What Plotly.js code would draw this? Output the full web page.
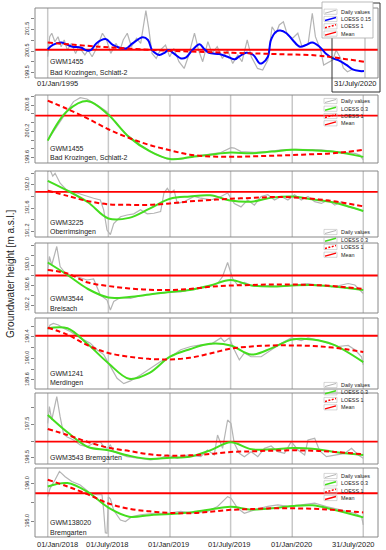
<!DOCTYPE html>
<html><head><meta charset="utf-8">
<script src="https://cdn.plot.ly/plotly-3.0.1.min.js"></script>
<style>html,body{margin:0;padding:0;background:#fff;}#chart{width:386px;height:550px;}</style>
</head><body><div id="chart"></div>
<script>
// ---------------- DATA ----------------
const stationIds = ['GWM1455','GWM1455','GWM3225','GWM3544','GWM1241','GWM3543 Bremgarten','GWM138020'];
const stationNames = ['Bad Krozingen, Schlatt-2','Bad Krozingen, Schlatt-2','Oberrimsingen','Breisach','Merdingen','','Bremgarten'];
const legendLabelsP1 = ['Daily values','LOESS 0.15','LOESS 1','Mean'];
const legendLabels = ['Daily values','LOESS 0.3','LOESS 1','Mean'];
const yTitle = 'Groundwater height [m a.s.l.]';

const p1TickDates = ['1995-01-01','2020-07-31'];
const p1TickLabels = ['01/Jan/1995','31/July/2020'];
const xTickDates = ['2018-01-01','2018-07-01','2019-01-01','2019-07-01','2020-01-01','2020-07-31'];
const xTickLabels = ['01/Jan/2018','01/July/2018','01/Jan/2019','01/July/2019','01/Jan/2020','31/July/2020'];

const means = [200.56, 200.56, 191.88, 192.79, 190.42, 196.98, 195.75];

const yTickVals = [
  [199.5,200,200.5,201,201.5,202],
  [199.6,199.8,200.0,200.2,200.4,200.6,200.8,201.0],
  [191.2,191.4,191.6,191.8,192.0,192.2],
  [192.2,192.4,192.6,192.8,193.0,193.2,193.4],
  [189.6,189.8,190.0,190.2,190.4,190.6],
  [196.5,197.0,197.5,198.0],
  [195.0,195.5,196.0]
];
const yTickText = [
  ['199.5','','200.5','','201.5',''],
  ['199.6','','','200.2','','','200.8',''],
  ['191.2','','191.6','','192.0',''],
  ['192.2','','192.6','','193.0','',''],
  ['189.6','','190.0','','190.4',''],
  ['196.5','','197.5',''],
  ['195.0','','196.0']
];

// Panel 1 : GWM1455 1995-2020
const p1GreyDates = ['1995-01','1995-03','1995-05','1995-08','1995-11','1996-02','1996-05','1996-08','1996-12','1997-04','1997-07','1998-01','1998-04','1998-08','1999-01','1999-06','1999-10','2000-02','2000-07','2000-11','2001-02','2001-06','2001-10','2002-03','2002-07','2002-12','2003-03','2003-06','2003-10','2004-02','2004-07','2004-11','2005-03','2005-08','2006-01','2006-05','2006-11','2007-03','2007-07','2007-12','2008-04','2008-09','2009-02','2009-07','2009-12','2010-05','2010-09','2011-02','2011-06','2011-12','2012-05','2012-10','2013-02','2013-06','2013-09','2014-01','2014-05','2014-10','2015-03','2015-07','2016-01','2016-05','2016-08','2017-01','2017-04','2017-09','2018-01','2018-04','2018-08','2018-11','2019-03','2019-08','2020-01','2020-07'];
const p1GreyVals = [200.24,201.16,201.32,200.93,201.16,200.70,201.01,200.55,200.85,200.39,200.70,200.32,200.55,200.24,200.70,201.32,201.01,200.39,200.85,200.55,201.01,201.32,200.70,201.09,200.85,202.36,201.47,200.39,200.16,200.55,200.78,200.24,200.62,200.01,199.70,200.24,201.32,200.55,200.01,200.93,200.39,200.70,200.16,200.55,199.93,200.32,200.01,201.01,200.24,199.70,199.63,200.09,201.62,201.32,201.70,201.85,201.24,201.09,201.32,200.70,200.85,202.24,201.16,200.55,199.86,200.01,200.10,200.55,200.20,199.72,199.55,199.66,199.60,199.56];
const p1LoessDates = ['1995-01','1995-06','1996-02','1996-07','1997-01','1997-09','1998-03','1998-07','1998-12','1999-09','2000-04','2000-10','2001-05','2001-11','2002-09','2003-02','2003-06','2004-01','2004-06','2004-10','2005-03','2005-10','2006-03','2006-09','2007-04','2007-08','2008-01','2008-11','2009-07','2010-02','2010-06','2011-01','2011-08','2012-02','2012-05','2012-10','2013-01','2013-06','2013-10','2014-04','2014-10','2015-05','2015-11','2016-05','2016-12','2017-06','2018-01','2018-07','2019-02','2019-08','2020-03','2020-07'];
const p1LoessVals = [200.58,200.78,200.89,200.81,200.70,200.66,200.52,200.55,200.85,201.05,200.78,200.66,200.62,200.85,201.13,201.01,200.55,200.32,200.42,200.55,200.39,200.16,200.21,200.55,200.81,200.62,200.42,200.36,200.24,200.12,200.24,200.42,200.32,199.93,199.96,200.24,201.01,201.39,201.44,201.32,201.01,200.70,200.78,200.89,200.70,200.39,200.16,200.06,199.86,199.66,199.58,199.58];
const p1Loess1Dates = ['1995-01','1999-03','2004-08','2009-12','2014-01','2016-09','2018-01','2020-07'];
const p1Loess1Vals = [200.89,200.70,200.52,200.42,200.35,200.30,200.21,200.01];

// Panels 2-7 : 2018-2020, smoothed curves on a common grid
const gridDates = ['2018-01-01','2018-03-01','2018-05-01','2018-07-01','2018-09-01','2018-11-01','2019-01-01','2019-03-01','2019-05-01','2019-07-01','2019-09-01','2019-11-01','2020-01-01','2020-03-01','2020-05-01','2020-07-31'];

const p2GreyDates = ['2018-01-01','2018-01-28','2018-02-27','2018-03-19','2018-04-08','2018-04-28','2018-05-28','2018-06-27','2018-07-27','2018-08-26','2018-10-05','2018-11-14','2018-12-24','2019-02-02','2019-03-14','2019-04-23','2019-06-02','2019-07-02','2019-07-12','2019-08-01','2019-09-10','2019-10-20','2019-11-29','2020-01-08','2020-02-17','2020-03-28','2020-05-07','2020-06-16','2020-07-06','2020-07-21','2020-07-31'];
const p2GreyVals = [200.00,200.31,200.65,200.88,200.97,200.94,200.80,200.65,200.35,200.12,199.89,199.70,199.57,199.57,199.63,199.68,199.72,199.83,199.82,199.74,199.72,199.74,199.78,199.79,199.78,199.78,199.74,199.72,199.70,199.66,199.55];
const p2LoessVals = [199.99,200.67,200.89,200.58,200.07,199.75,199.57,199.61,199.67,199.72,199.70,199.74,199.78,199.77,199.74,199.62];
const p2Loess1Vals = [200.90,200.71,200.49,200.25,200.05,199.89,199.77,199.67,199.63,199.62,199.63,199.645,199.66,199.68,199.70,199.78];

const p3GreyDates = ['2018-01-01','2018-01-08','2018-01-16','2018-01-23','2018-02-07','2018-02-27','2018-03-29','2018-04-28','2018-05-18','2018-06-07','2018-06-17','2018-06-27','2018-07-07','2018-07-17','2018-08-06','2018-08-26','2018-09-15','2018-10-05','2018-10-25','2018-11-14','2018-12-04','2018-12-14','2018-12-24','2019-01-03','2019-01-13','2019-01-23','2019-02-12','2019-03-14','2019-04-03','2019-05-03','2019-06-02','2019-06-22','2019-07-12','2019-08-01','2019-08-21','2019-09-10','2019-09-30','2019-10-20','2019-11-09','2019-11-29','2019-12-19','2020-01-08','2020-01-28','2020-02-17','2020-03-08','2020-03-28','2020-04-17','2020-05-07','2020-05-27','2020-06-16','2020-07-06','2020-07-21','2020-07-31'];
const p3GreyVals = [192.23,192.26,192.15,192.20,192.03,191.91,191.86,191.80,191.77,191.74,191.57,191.22,191.14,191.33,191.45,191.48,191.50,191.57,191.50,191.51,191.54,191.86,191.94,191.86,191.91,191.68,191.71,191.80,191.77,191.74,191.80,191.86,191.68,191.62,191.74,191.65,191.80,191.83,191.74,191.80,191.74,191.83,191.74,191.80,191.71,191.68,191.74,191.65,191.71,191.62,191.59,191.57,191.54];
const p3LoessVals = [192.07,191.90,191.70,191.42,191.43,191.59,191.76,191.80,191.82,191.73,191.71,191.78,191.80,191.75,191.70,191.55];
const p3Loess1Vals = [191.90,191.81,191.72,191.665,191.655,191.655,191.68,191.715,191.74,191.76,191.775,191.79,191.785,191.76,191.72,191.63];

const p4GreyDates = ['2018-01-01','2018-01-06','2018-01-13','2018-01-28','2018-02-07','2018-02-27','2018-03-29','2018-04-28','2018-05-18','2018-06-07','2018-06-27','2018-07-07','2018-07-17','2018-08-06','2018-09-05','2018-10-05','2018-11-04','2018-12-04','2019-01-03','2019-02-02','2019-03-14','2019-04-23','2019-05-23','2019-06-07','2019-06-22','2019-07-07','2019-07-22','2019-08-11','2019-09-10','2019-10-20','2019-11-29','2020-01-08','2020-02-17','2020-03-28','2020-05-07','2020-06-16','2020-07-06','2020-07-31'];
const p4GreyVals = [192.90,193.17,193.00,193.37,192.97,192.80,192.77,192.70,192.72,192.40,192.30,192.10,192.27,192.35,192.33,192.39,192.41,192.45,192.46,192.46,192.53,192.55,192.63,192.77,193.05,192.73,192.60,192.65,192.57,192.59,192.57,192.60,192.63,192.59,192.57,192.63,192.60,192.43];
const p4LoessVals = [193.05,192.80,192.52,192.35,192.36,192.41,192.46,192.50,192.59,192.70,192.59,192.57,192.59,192.60,192.57,192.50];
const p4Loess1Vals = [192.90,192.83,192.65,192.58,192.53,192.505,192.50,192.52,192.565,192.59,192.60,192.61,192.61,192.60,192.58,192.52];

const p5GreyDates = ['2018-01-01','2018-01-08','2018-01-18','2018-02-02','2018-02-17','2018-03-09','2018-04-08','2018-05-08','2018-05-28','2018-06-17','2018-07-07','2018-07-27','2018-08-16','2018-09-05','2018-10-05','2018-11-04','2018-12-04','2019-01-03','2019-02-02','2019-03-04','2019-04-03','2019-05-03','2019-06-02','2019-06-12','2019-06-27','2019-07-12','2019-07-27','2019-08-11','2019-08-31','2019-09-30','2019-10-30','2019-11-29','2019-12-29','2020-01-28','2020-02-17','2020-03-18','2020-04-17','2020-05-17','2020-06-16','2020-07-06','2020-07-26','2020-07-31'];
const p5GreyVals = [190.53,190.62,190.65,190.62,190.56,190.50,190.38,190.28,190.16,190.07,189.85,189.63,189.53,189.58,189.69,189.82,189.94,190.03,190.16,190.22,190.25,190.26,190.38,190.31,190.38,190.16,189.97,190.10,190.03,190.03,190.16,190.28,190.38,190.33,190.38,190.34,190.28,190.22,190.24,190.16,190.03,189.88];
const p5LoessVals = [190.56,190.56,190.26,189.91,189.62,189.73,190.03,190.17,190.27,190.24,190.07,190.19,190.35,190.35,190.26,189.93];
const p5Loess1Vals = [190.57,190.44,190.24,190.10,190.03,189.99,189.98,190.01,190.09,190.18,190.22,190.24,190.24,190.23,190.20,190.12];

const p6GreyDates = ['2018-01-01','2018-01-06','2018-01-13','2018-01-28','2018-02-07','2018-02-17','2018-02-27','2018-03-19','2018-04-08','2018-04-28','2018-05-18','2018-06-07','2018-06-17','2018-06-27','2018-07-07','2018-07-17','2018-08-26','2018-10-05','2018-11-04','2018-12-04','2018-12-24','2019-01-23','2019-02-22','2019-04-03','2019-04-23','2019-05-13','2019-05-23','2019-06-07','2019-06-22','2019-07-02','2019-07-12','2019-07-27','2019-08-11','2019-08-31','2019-09-20','2019-10-10','2019-10-30','2019-11-19','2019-12-09','2019-12-29','2020-01-18','2020-02-07','2020-02-17','2020-03-08','2020-03-23','2020-04-12','2020-05-07','2020-06-06','2020-06-26','2020-07-16','2020-07-31'];
const p6GreyVals = [197.53,198.03,197.63,198.33,197.73,197.23,197.13,197.03,196.88,196.83,196.93,196.98,196.83,196.78,196.88,196.68,196.53,196.48,196.43,196.48,196.58,196.48,196.58,196.53,196.73,196.58,197.18,196.78,197.63,197.53,196.93,196.63,196.53,196.68,196.53,196.78,196.85,196.68,196.63,196.98,196.73,196.58,197.03,197.08,196.70,196.53,196.58,196.63,196.78,196.58,196.48];
const p6LoessVals = [197.78,197.26,196.82,196.72,196.56,196.46,196.50,196.53,196.72,196.96,196.75,196.75,196.79,196.77,196.68,196.58];
const p6Loess1Vals = [197.36,197.18,196.97,196.80,196.70,196.60,196.56,196.57,196.61,196.67,196.69,196.71,196.72,196.71,196.68,196.60];

const p7GreyDates = ['2018-01-01','2018-01-08','2018-01-23','2018-02-05','2018-02-22','2018-03-14','2018-04-08','2018-05-08','2018-05-28','2018-06-12','2018-06-17','2018-06-22','2018-06-27','2018-07-01','2018-07-07','2018-07-17','2018-08-06','2018-08-21','2018-09-10','2018-10-05','2018-11-14','2018-12-24','2019-02-02','2019-03-14','2019-04-23','2019-05-23','2019-06-22','2019-07-02','2019-07-22','2019-08-11','2019-09-10','2019-10-20','2019-11-19','2019-12-19','2020-01-28','2020-03-08','2020-04-12','2020-05-07','2020-06-06','2020-07-06','2020-07-26','2020-07-31'];
const p7GreyVals = [195.66,195.88,196.11,196.33,196.19,196.06,195.97,195.75,195.71,195.71,195.30,194.70,194.69,195.65,195.60,195.30,195.04,195.00,195.13,195.18,195.22,195.22,195.27,195.22,195.27,195.40,195.66,195.62,195.35,195.22,195.31,195.40,195.44,195.40,195.44,195.49,195.40,195.35,195.27,195.22,195.13,194.91];
const p7LoessVals = [195.93,196.02,195.78,195.37,195.13,195.17,195.20,195.24,195.32,195.39,195.32,195.35,195.41,195.43,195.32,195.11];
const p7Loess1Vals = [196.11,195.93,195.72,195.48,195.34,195.27,195.23,195.22,195.26,195.31,195.33,195.35,195.35,195.34,195.31,195.24];

// ---------------- LAYOUT HELPERS ----------------
const W = 386, H = 550, ML = 35, MR = 8, MT = 7, MB = 13;
const PW = W - ML - MR, PH = H - MT - MB;
const px = x => (x - ML) / PW;
const py = y => (H - MB - y) / PH;

const panelPx = [[8,78],[95,163],[171,237],[243,313],[318,389],[393,464],[468,537]];
const yRanges = [[199.26,202.48],[199.48,201.03],[191.10,192.24],[192.04,193.44],[189.43,190.75],[196.31,198.44],[194.59,196.42]];
const p1XRange = ['1993-12-23','2021-08-18'];
const xRange = ['2017-11-24','2020-09-13'];

const GREY = '#b4b4b4', RED = '#ff0000', BLUE = '#0000ff', GREEN = '#44dd1e';
const FONT = 'Liberation Sans, Arial, sans-serif';

const series = [
  {gx:p1GreyDates, gy:p1GreyVals, lx:p1LoessDates, ly:p1LoessVals, rx:p1Loess1Dates, ry:p1Loess1Vals, lc:BLUE},
  {gx:p2GreyDates, gy:p2GreyVals, lx:gridDates, ly:p2LoessVals, rx:gridDates, ry:p2Loess1Vals, lc:GREEN},
  {gx:p3GreyDates, gy:p3GreyVals, lx:gridDates, ly:p3LoessVals, rx:gridDates, ry:p3Loess1Vals, lc:GREEN},
  {gx:p4GreyDates, gy:p4GreyVals, lx:gridDates, ly:p4LoessVals, rx:gridDates, ry:p4Loess1Vals, lc:GREEN},
  {gx:p5GreyDates, gy:p5GreyVals, lx:gridDates, ly:p5LoessVals, rx:gridDates, ry:p5Loess1Vals, lc:GREEN},
  {gx:p6GreyDates, gy:p6GreyVals, lx:gridDates, ly:p6LoessVals, rx:gridDates, ry:p6Loess1Vals, lc:GREEN},
  {gx:p7GreyDates, gy:p7GreyVals, lx:gridDates, ly:p7LoessVals, rx:gridDates, ry:p7Loess1Vals, lc:GREEN}
];

const traces = [];
const shapes = [];
const annotations = [];
const layout = {
  width: W, height: H,
  margin: {l: ML, r: MR, t: MT, b: MB, pad: 0},
  paper_bgcolor: '#ffffff', plot_bgcolor: 'rgba(0,0,0,0)',
  showlegend: false,
  font: {family: FONT, color: '#222'},
  xaxis: {domain:[0,1], anchor:'y', type:'date', range:p1XRange, showticklabels:false, ticks:'', showgrid:false, zeroline:false, showline:false, fixedrange:true},
  xaxis2: {domain:[0,1], anchor:'y7', type:'date', range:xRange, showticklabels:false, ticks:'', showgrid:false, zeroline:false, showline:false, fixedrange:true}
};

series.forEach((s, i) => {
  const xa = i === 0 ? 'x' : 'x2';
  const ya = i === 0 ? 'y' : 'y' + (i + 1);
  const xr = i === 0 ? p1XRange : xRange;
  const base = {type:'scatter', mode:'lines', xaxis:xa, yaxis:ya, hoverinfo:'skip'};
  traces.push(Object.assign({}, base, {x:s.gx, y:s.gy, line:{color:GREY, width:1.2}}));
  traces.push(Object.assign({}, base, {x:xr, y:[means[i], means[i]], line:{color:RED, width:1.8}}));
  traces.push(Object.assign({}, base, {x:s.lx, y:s.ly, line:{color:s.lc, width:2, shape:'spline', smoothing:1}}));
  traces.push(Object.assign({}, base, {x:s.rx, y:s.ry, line:{color:RED, width:2, dash:'5px,3px', shape:'spline', smoothing:1}}));

  const key = i === 0 ? 'yaxis' : 'yaxis' + (i + 1);
  layout[key] = {
    domain: [py(panelPx[i][1]), py(panelPx[i][0])],
    anchor: xa, range: yRanges[i],
    tickmode: 'array', tickvals: yTickVals[i], ticktext: yTickText[i],
    tickangle: -90, tickfont: {size: 5.5, color: '#333', family: FONT},
    ticks: 'outside', ticklen: 3, tickwidth: 0.8, tickcolor: '#666',
    showgrid: false, zeroline: false, showline: false, fixedrange: true
  };

  // panel frame
  shapes.push({type:'rect', xref:xa + ' domain', yref:ya + ' domain', x0:0, x1:1, y0:0, y1:1,
    line:{color:'#888', width:1}, fillcolor:'rgba(0,0,0,0)', layer:'above'});
  // vertical date marks
  const marks = i === 0 ? p1TickDates : xTickDates;
  marks.forEach(d => shapes.push({type:'line', xref:xa, yref:ya + ' domain', x0:d, x1:d, y0:0, y1:1,
    line:{color:'#c8c8c8', width:1.5}, layer:'below'}));

  // station labels
  const lab = [[62,73],[148,158],[222,232],[298,308],[373,383],[458,null],[522,533]][i];
  annotations.push({xref:'paper', yref:'paper', x:px(48), y:py(lab[0]), xanchor:'left', yanchor:'middle',
    text:stationIds[i], showarrow:false, font:{size:7, color:'#222', family:FONT}});
  if (stationNames[i]) annotations.push({xref:'paper', yref:'paper', x:px(48), y:py(lab[1]), xanchor:'left', yanchor:'middle',
    text:stationNames[i], showarrow:false, font:{size:7, color:'#222', family:FONT}});
});

// x-axis date labels
function dateLabels(dates, labels, xref, ypx) {
  dates.forEach((d, k) => {
    const first = k === 0, last = k === dates.length - 1;
    annotations.push({xref:xref, yref:'paper', x:d, y:py(ypx), yanchor:'middle',
      xanchor: first ? 'left' : (last ? 'right' : 'center'),
      xshift: first ? -13 : (last ? 14 : -1),
      text:labels[k], showarrow:false, font:{size:7.5, color:'#222', family:FONT}});
  });
}
dateLabels(p1TickDates, p1TickLabels, 'x', 84);
dateLabels(xTickDates, xTickLabels, 'x2', 544);

// y title
annotations.push({xref:'paper', yref:'paper', x:px(10), y:py(274), textangle:-90, xanchor:'center', yanchor:'middle',
  text:yTitle, showarrow:false, font:{size:10, color:'#222', family:FONT}});

// highlight box on panel 1
shapes.push({type:'rect', xref:'paper', yref:'paper', x0:px(332), x1:px(380), y0:py(92), y1:py(3),
  line:{color:'#333', width:1}, fillcolor:'rgba(0,0,0,0)', layer:'above'});
// panel 1 legend box
shapes.push({type:'rect', xref:'paper', yref:'paper', x0:px(322), x1:px(373), y0:py(38), y1:py(2),
  line:{color:'#aaa', width:0.8}, fillcolor:'#ffffff', layer:'above'});

// legends
const legendDefs = [
  {ys:[11.7,19,26.3,33.6], labels:legendLabelsP1, lc:BLUE},
  {ys:[101,108.7,116,123.3], labels:legendLabels, lc:GREEN},
  {ys:[232,239.7,247,254.7], labels:legendLabels, lc:GREEN},
  {ys:[385,392.3,400,407.3], labels:legendLabels, lc:GREEN},
  {ys:[476,483.3,490.7,498], labels:legendLabels, lc:GREEN}
];
legendDefs.forEach(L => {
  L.ys.forEach((y, k) => {
    shapes.push({type:'rect', xref:'paper', yref:'paper', x0:px(324), x1:px(337), y0:py(y+2.6), y1:py(y-2.6),
      line:{color:'#bbb', width:0.6}, fillcolor:'rgba(0,0,0,0)', layer:'above'});
    const st = [
      {color:GREY, width:1, dash:'solid'},
      {color:L.lc, width:1.5, dash:'solid'},
      {color:RED, width:1.5, dash:'2px,1.5px'},
      {color:RED, width:1.3, dash:'solid'}
    ][k];
    shapes.push({type:'line', xref:'paper', yref:'paper', x0:px(325), x1:px(336), y0:py(y+1.5), y1:py(y-1.5),
      line:st, layer:'above'});
    annotations.push({xref:'paper', yref:'paper', x:px(338.5), y:py(y), xanchor:'left', yanchor:'middle',
      text:L.labels[k], showarrow:false, font:{size:5.4, color:'#222', family:FONT}});
  });
});

layout.shapes = shapes;
layout.annotations = annotations;

Plotly.newPlot('chart', traces, layout, {staticPlot:true, displayModeBar:false});
</script></body></html>
